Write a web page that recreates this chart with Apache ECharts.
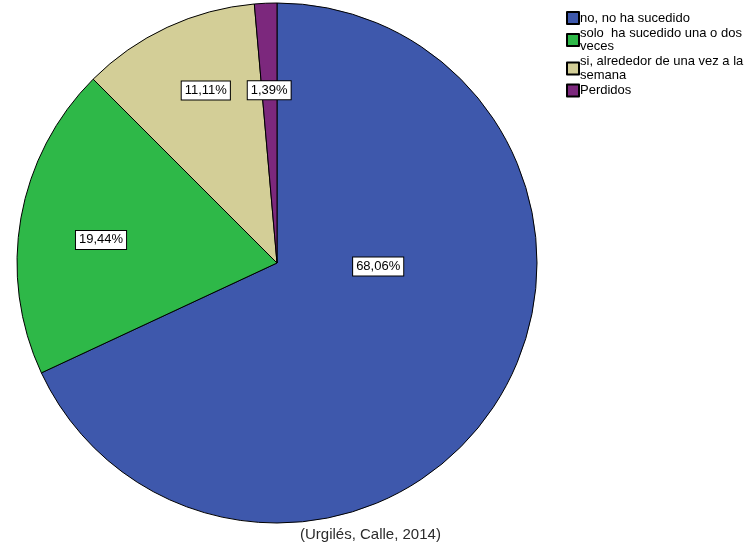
<!DOCTYPE html>
<html>
<head>
<meta charset="utf-8">
<script src="https://cdn.jsdelivr.net/npm/echarts@6/dist/echarts.min.js"></script>
<style>html,body{margin:0;padding:0;background:#fff}#c{width:746px;height:542px}</style>
</head>
<body>
<div id="c"></div>
<script>
const categories = ['no, no ha sucedido', 'solo  ha sucedido una o dos veces', 'si, alrededor de una vez a la semana', 'Perdidos'];
const legendLabels = ['no, no ha sucedido', 'solo  ha sucedido una o dos\nveces', 'si, alrededor de una vez a la\nsemana', 'Perdidos'];
const counts = [49, 14, 8, 1];
const percentLabels = ['68,06%', '19,44%', '11,11%', '1,39%'];
const colors = ['#3E58AC', '#2EB848', '#D3CE97', '#7C287D'];
const sourceText = '(Urgilés, Calle, 2014)';
// label nudges (SPSS-style placement), in px
const labelNudges = [[-11, -68], [-45, 0], [-15, -52], [-2, -40]];

const chart = echarts.init(document.getElementById('c'), null, {renderer: 'canvas'});
const font = '"Liberation Sans", Arial, sans-serif';
chart.setOption({
  animation: false,
  color: colors,
  title: {
    text: sourceText,
    left: 295, top: 522,
    textStyle: {fontFamily: font, fontSize: 15, fontWeight: 'normal', color: '#2b2b2b'}
  },
  legend: {
    orient: 'vertical',
    left: 561, top: 6,
    icon: 'rect',
    itemWidth: 12, itemHeight: 12,
    itemGap: 1.5,
    data: categories,
    formatter: function (name) { return legendLabels[categories.indexOf(name)]; },
    textStyle: {fontFamily: font, fontSize: 13, lineHeight: 13.5, color: '#000', padding: [0, 0, 0, -4]}
  },
  series: [{
    type: 'pie',
    center: [277, 263],
    radius: [0, 260],
    startAngle: 90,
    clockwise: true,
    avoidLabelOverlap: false,
    itemStyle: {borderColor: '#000', borderWidth: 1},
    label: {
      show: true,
      position: 'inside',
      formatter: function (p) { return percentLabels[p.dataIndex]; },
      fontFamily: font, fontSize: 13, color: '#000',
      backgroundColor: '#fff', borderColor: '#000', borderWidth: 1,
      padding: [3, 3, 2, 3]
    },
    labelLayout: function (p) {
      const n = labelNudges[p.dataIndex];
      return {dx: n[0], dy: n[1]};
    },
    emphasis: {disabled: true},
    data: categories.map((c, i) => ({name: c, value: counts[i]}))
  }]
});
</script>
</body>
</html>
